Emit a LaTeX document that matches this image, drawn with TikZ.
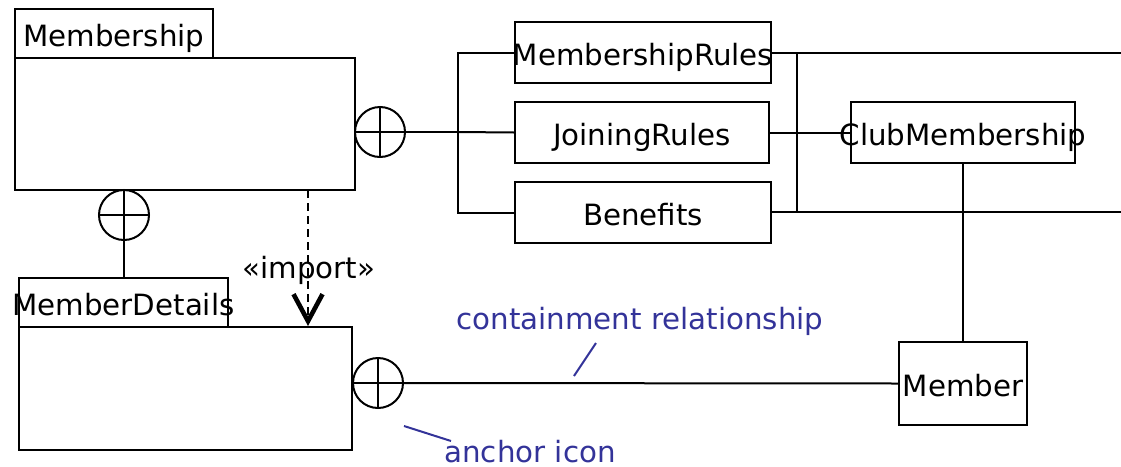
\documentclass[tikz,border=0pt]{standalone}
\usepackage{fontspec}
\setmainfont{DejaVu Sans}
\usetikzlibrary{arrows.meta}
\definecolor{notecol}{RGB}{51,51,153}
\tikzset{
  every node/.style={font=\fontsize{29.3}{34}\selectfont, inner sep=0pt,
    text height=30pt, text depth=5pt},
  box/.style={draw, line width=2pt},
  wire/.style={line width=2pt},
  heavy/.style={line width=2.6pt},
  anchoricon/.style={draw, circle, line width=2pt, minimum size=50pt,
    text height=0pt, text depth=0pt},
  note/.style={text=notecol},
  noteline/.style={draw=notecol, line width=2pt},
  importdep/.style={line width=2pt, dash pattern=on 8pt off 5pt,
    -{Straight Barb[length=27pt,width=29pt,line width=4.6pt]}}
}
% label that may run past the edges of its box
\newcommand{\lbl}[1]{\makebox[0pt]{#1}}
\newcommand{\crossin}[1]{%
  \draw[wire] (#1.north) -- (#1.south) (#1.west) -- (#1.east);}
\begin{document}
\begin{tikzpicture}[x=1pt,y=-1pt]
\useasboundingbox (0,0) rectangle (1121,466);

% packages with their name tabs
\node[box, minimum width=198pt, minimum height=49pt] (mtab) at (114,33.5) {\lbl{Membership}};
\node[box, minimum width=340pt, minimum height=132pt] (mbody) at (185,124) {};
\node[box, minimum width=209pt, minimum height=49pt] (dtab) at (123.5,302.5) {\lbl{MemberDetails}};
\node[box, minimum width=333pt, minimum height=123pt] (dbody) at (185.5,388.5) {};

% classes
\node[box, minimum width=256pt, minimum height=61pt] (mr) at (643,52.5) {\lbl{MembershipRules}};
\node[box, minimum width=254pt, minimum height=61pt] (jr) at (642,132.5) {\lbl{JoiningRules}};
\node[box, minimum width=256pt, minimum height=61pt] (ben) at (643,212.5) {\lbl{Benefits}};
\node[box, minimum width=224pt, minimum height=61pt] (cm) at (963,132.5) {\lbl{ClubMembership}};
\node[box, minimum width=128pt, minimum height=83pt] (mem) at (963,383.5) {\lbl{Member}};

% containment anchors
\node[anchoricon] (a1) at (380,132) {};
\node[anchoricon] (a2) at (124,215) {};
\node[anchoricon] (a3) at (378,383) {};
\crossin{a1}
\crossin{a2}
\crossin{a3}

% containment tree from Membership
\coordinate (jn) at (458,132);
\draw[wire] (a1.east) -- (jn);
\draw[wire] (jn) |- (mr.west);
\draw[wire] (jn) -- (jr.west);
\draw[wire] (jn) |- (ben.west);

% right-hand connectors
\coordinate (r1) at (1121,53);
\coordinate (r2) at (1121,212);
\coordinate (v1) at (797,53);
\coordinate (v2) at (797,212);
\draw[heavy] (mr.east |- r1) -- (r1);
\draw[heavy] (ben.east |- r2) -- (r2);
\draw[wire] (v1) -- (v2);
\draw[wire] (jr.east) -- (cm.west);
\draw[wire] (cm.south) -- (mem.north);

% MemberDetails contained in Membership
\draw[wire] (a2.south) -- (a2.south |- dtab.north);

% Member contained in MemberDetails
\draw[wire] (a3.east) -- (mem.west);

% import dependency
\coordinate (is) at (308,190);
\coordinate (ie) at (308,326);
\draw[importdep] (is) -- (ie);
\node (imp) at (309,265.8) {«import»};

% annotations
\node[note] (cr) at (640,317) {containment relationship};
\coordinate (cr1) at (596,343);
\coordinate (cr2) at (574,376);
\draw[noteline] (cr1) -- (cr2);
\node[note, text depth=1pt] (ai) at (530,448) {anchor icon};
\coordinate (ai1) at (451,441);
\coordinate (ai2) at (404,426);
\draw[noteline] (ai1) -- (ai2);
\end{tikzpicture}
\end{document}
